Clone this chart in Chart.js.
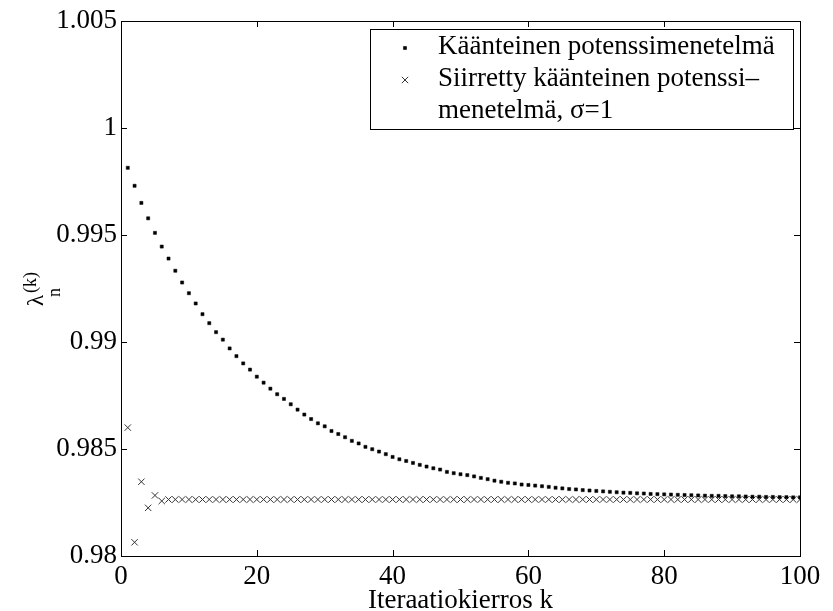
<!DOCTYPE html>
<html>
<head>
<meta charset="utf-8">
<script src="https://cdn.jsdelivr.net/npm/chart.js@4.4.0/dist/chart.umd.min.js"></script>
<style>
html, body { margin: 0; padding: 0; background: #fff; }
#kuvaaja { display: block; }
</style>
</head>
<body>
<canvas id="kuvaaja" width="833" height="611"></canvas>
<script>
// iteraatiokierrokset k = 1..100
const kierrokset = Array.from({length: 100}, (_, i) => i + 1);

// käänteinen potenssimenetelmä (pisteet)
const potenssi = [
  0.99814, 0.99730, 0.99650, 0.99578, 0.99510, 0.99446, 0.99390, 0.99333, 0.99278, 0.99228,
  0.99180, 0.99130, 0.99088, 0.99046, 0.99011, 0.98970, 0.98934, 0.98900, 0.98871, 0.98838,
  0.98810, 0.98782, 0.98756, 0.98734, 0.98709, 0.98684, 0.98661, 0.98640, 0.98620, 0.98606,
  0.98584, 0.98570, 0.98555, 0.98538, 0.98526, 0.98510, 0.98499, 0.98488, 0.98476, 0.98463,
  0.98452, 0.98444, 0.98435, 0.98426, 0.98418, 0.98410, 0.98404, 0.98393, 0.98387, 0.98382,
  0.98378, 0.98372, 0.98365, 0.98359, 0.98352, 0.98347, 0.98342, 0.98339, 0.98334, 0.98332,
  0.98329, 0.98326, 0.98323, 0.98319, 0.98316, 0.98313, 0.98311, 0.98308, 0.98306, 0.98304,
  0.98302, 0.98300, 0.98298, 0.98296, 0.98295, 0.98293, 0.98292, 0.98290, 0.98289, 0.98288,
  0.98287, 0.98286, 0.98285, 0.98284, 0.98283, 0.98282, 0.98281, 0.98281, 0.98280, 0.98279,
  0.98279, 0.98278, 0.98277, 0.98277, 0.98276, 0.98276, 0.98275, 0.98275, 0.98274, 0.98274
];

// siirretty käänteinen potenssimenetelmä, sigma = 1 (ristit)
const siirretty = [
  0.98600, 0.98064, 0.98347, 0.98225, 0.98283, 0.98257, 0.98264, 0.98264, 0.98264, 0.98264,
  0.98264, 0.98264, 0.98264, 0.98264, 0.98264, 0.98264, 0.98264, 0.98264, 0.98264, 0.98264,
  0.98264, 0.98264, 0.98264, 0.98264, 0.98264, 0.98264, 0.98264, 0.98264, 0.98264, 0.98264,
  0.98264, 0.98264, 0.98264, 0.98264, 0.98264, 0.98264, 0.98264, 0.98264, 0.98264, 0.98264,
  0.98264, 0.98264, 0.98264, 0.98264, 0.98264, 0.98264, 0.98264, 0.98264, 0.98264, 0.98264,
  0.98264, 0.98264, 0.98264, 0.98264, 0.98264, 0.98264, 0.98264, 0.98264, 0.98264, 0.98264,
  0.98264, 0.98264, 0.98264, 0.98264, 0.98264, 0.98264, 0.98264, 0.98264, 0.98264, 0.98264,
  0.98264, 0.98264, 0.98264, 0.98264, 0.98264, 0.98264, 0.98264, 0.98264, 0.98264, 0.98264,
  0.98264, 0.98264, 0.98264, 0.98264, 0.98264, 0.98264, 0.98264, 0.98264, 0.98264, 0.98264,
  0.98264, 0.98264, 0.98264, 0.98264, 0.98264, 0.98264, 0.98264, 0.98264, 0.98264, 0.98264
];

const xTicks = [0, 20, 40, 60, 80, 100];
const yTicks = [0.98, 0.985, 0.99, 0.995, 1, 1.005];
const yTickLabels = ['0.98', '0.985', '0.99', '0.995', '1', '1.005'];
const selite = ['Käänteinen potenssimenetelmä', 'Siirretty käänteinen potenssi–', 'menetelmä, σ=1'];
const xOtsikko = 'Iteraatiokierros k';

const fontti = 'Liberation Serif, Times New Roman, serif';

// kehys ja sisäänpäin osoittavat tikit (matlab-tyyli)
const kehys = {
  id: 'kehys',
  afterDatasetsDraw(chart) {
    const {ctx, chartArea: a, scales: {x, y}} = chart;
    const t = 6;
    ctx.save();
    ctx.strokeStyle = '#000';
    ctx.lineWidth = 1;
    ctx.strokeRect(Math.round(a.left) + 0.5, Math.round(a.top) + 0.5,
      Math.round(a.right - a.left), Math.round(a.bottom - a.top));
    ctx.beginPath();
    xTicks.forEach(v => {
      const px = Math.round(x.getPixelForValue(v)) + 0.5;
      ctx.moveTo(px, a.bottom); ctx.lineTo(px, a.bottom - t);
      ctx.moveTo(px, a.top); ctx.lineTo(px, a.top + t);
    });
    yTicks.forEach(v => {
      const py = Math.round(y.getPixelForValue(v)) + 0.5;
      ctx.moveTo(a.left, py); ctx.lineTo(a.left + t, py);
      ctx.moveTo(a.right, py); ctx.lineTo(a.right - t, py);
    });
    ctx.stroke();
    ctx.restore();
  },
  afterDraw(chart) {
    const ctx = chart.ctx;
    ctx.save();
    // selitelaatikko
    ctx.fillStyle = '#fff';
    ctx.fillRect(370, 29, 423, 100);
    ctx.strokeStyle = '#000';
    ctx.lineWidth = 1;
    ctx.strokeRect(370.5, 29.5, 423, 100);
    ctx.fillStyle = '#000';
    ctx.font = '27px ' + fontti;
    ctx.textAlign = 'left';
    ctx.textBaseline = 'alphabetic';
    ctx.fillText(selite[0], 438, 54);
    ctx.fillText(selite[1], 438, 86);
    ctx.fillText(selite[2], 438, 118);
    const ds = chart.data.datasets;
    [[ds[0], 48], [ds[1], 80]].forEach(([d, yy]) => {
      ctx.fillStyle = d.backgroundColor;
      ctx.strokeStyle = d.borderColor;
      ctx.lineWidth = d.borderWidth;
      Chart.helpers.drawPoint(ctx, {pointStyle: d.pointStyle, radius: d.pointRadius, rotation: 0, borderWidth: d.borderWidth}, 405, yy);
    });
    // y-akselin otsikko: lambda_n^(k)
    ctx.fillStyle = '#000';
    ctx.rotate(-Math.PI / 2);
    ctx.font = '23px ' + fontti;
    ctx.fillText('λ', -306, 43);
    ctx.font = '18px ' + fontti;
    ctx.fillText('(k)', -293, 36);
    ctx.fillText('n', -297, 60);
    ctx.restore();
  }
};

const data = {
  datasets: [{
    label: selite[0],
    data: kierrokset.map((k, i) => ({x: k, y: potenssi[i]})),
    pointStyle: 'rect',
    pointRadius: 2.2,
    backgroundColor: '#000',
    borderColor: '#000',
    borderWidth: 0.5
  }, {
    label: selite[1] + selite[2],
    data: kierrokset.map((k, i) => ({x: k, y: siirretty[i]})),
    pointStyle: 'crossRot',
    pointRadius: 4.5,
    backgroundColor: '#333',
    borderColor: '#333',
    borderWidth: 1
  }]
};

new Chart(document.getElementById('kuvaaja'), {
  type: 'scatter',
  data: data,
  options: {
    responsive: false,
    animation: false,
    devicePixelRatio: 1,
    layout: {padding: {left: 0, top: 21, right: 33, bottom: 0}},
    plugins: {legend: {display: false}, tooltip: {enabled: false}},
    scales: {
      x: {
        type: 'linear', min: 0, max: 100,
        grid: {display: false, drawTicks: false},
        border: {display: false},
        afterBuildTicks: s => { s.ticks = xTicks.map(v => ({value: v})); },
        afterFit: s => { s.height = 55; },
        ticks: {color: '#000', padding: 5, font: {family: fontti, size: 27}, callback: v => String(v)},
        title: {display: true, text: xOtsikko, color: '#000', font: {family: fontti, size: 27}, padding: {top: 0, bottom: -6}}
      },
      y: {
        type: 'linear', min: 0.98, max: 1.005,
        grid: {display: false, drawTicks: false},
        border: {display: false},
        afterBuildTicks: s => { s.ticks = yTicks.map(v => ({value: v})); },
        afterFit: s => { s.width = 121; },
        ticks: {color: '#000', padding: 4, font: {family: fontti, size: 27},
          callback: (v, i) => yTickLabels[i]}
      }
    }
  },
  plugins: [kehys]
});
</script>
</body>
</html>
